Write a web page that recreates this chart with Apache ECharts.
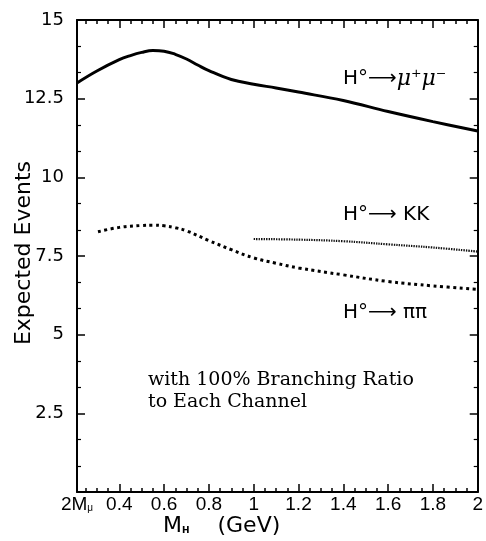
<!DOCTYPE html>
<html><head><meta charset="utf-8">
<script src="https://cdn.jsdelivr.net/npm/echarts@6/dist/echarts.min.js"></script>
<style>html,body{margin:0;padding:0;background:#fff}#c{width:486px;height:541px}</style>
</head><body><div id="c"></div><script>
// x axis starts at the di-muon threshold 2*m_mu (GeV)
const X_MIN = 0.2113;
const X_MAX = 2.0;
const xMajorTicks = [X_MIN, 0.4, 0.6, 0.8, 1.0, 1.2, 1.4, 1.6, 1.8, 2.0];
const xMinorTicks = [0.25, 0.3, 0.35, 0.45, 0.5, 0.55, 0.65, 0.7, 0.75, 0.85, 0.9, 0.95,
  1.05, 1.1, 1.15, 1.25, 1.3, 1.35, 1.45, 1.5, 1.55, 1.65, 1.7, 1.75, 1.85, 1.9, 1.95];

// H0 -> mu+ mu-
const muMuX = [0.2113, 0.3, 0.4, 0.45, 0.5, 0.55, 0.6, 0.65, 0.7, 0.75, 0.8, 0.9, 1.0, 1.1, 1.2, 1.4, 1.6, 1.8, 2.0];
const muMuY = [13.0, 13.38, 13.74, 13.87, 13.97, 14.03, 14.01, 13.91, 13.76, 13.57, 13.39, 13.11, 12.96, 12.84, 12.71, 12.44, 12.09, 11.77, 11.47];
// H0 -> pi pi
const piPiX = [0.305, 0.4, 0.5, 0.55, 0.6, 0.65, 0.7, 0.8, 0.9, 1.0, 1.1, 1.2, 1.4, 1.6, 1.8, 2.0];
const piPiY = [8.27, 8.41, 8.47, 8.48, 8.46, 8.40, 8.30, 7.99, 7.70, 7.44, 7.27, 7.12, 6.90, 6.69, 6.55, 6.44];
// H0 -> K K
const kkX = [1.0, 1.2, 1.4, 1.6, 1.8, 2.0];
const kkY = [8.04, 8.02, 7.97, 7.87, 7.77, 7.64];

const pairs = (xs, ys) => xs.map((x, i) => [x, ys[i]]);

const chart = echarts.init(document.getElementById('c'), null, {renderer: 'canvas'});
const black = '#000';
const sans = 'DejaVu Sans';

function xAxisCfg(pos, ticks, len, labels, line) {
  return {
    type: 'value', min: X_MIN, max: X_MAX, position: pos, gridIndex: 0,
    axisLine: {show: line, onZero: false, lineStyle: {color: black, width: 2}},
    axisTick: {show: true, inside: true, length: len, customValues: ticks, lineStyle: {color: black, width: 1.5}},
    axisLabel: labels ? {
      show: true, customValues: xMajorTicks, margin: 3, color: black,
      fontFamily: 'Liberation Sans', fontSize: 19, showMinLabel: true, showMaxLabel: true,
      formatter: v => Math.abs(v - X_MIN) < 1e-6 ? '2M{s|μ}' : String(+v.toFixed(1)),
      rich: {s: {fontSize: 10, fontFamily: 'Liberation Sans', color: black, padding: [8, 0, 0, 0]}}
    } : {show: false},
    splitLine: {show: false}
  };
}
function yAxisCfg(pos, labels) {
  return {
    type: 'value', min: 0, max: 15, interval: 2.5, position: pos,
    axisLine: {show: true, onZero: false, lineStyle: {color: black, width: 2}},
    axisTick: {show: true, inside: true, length: 8, lineStyle: {color: black, width: 1.5}},
    minorTick: {show: true, splitNumber: 3, length: 4, lineStyle: {color: black, width: 1.2}},
    axisLabel: labels ? {
      show: true, margin: 13, color: black, fontFamily: sans, fontSize: 18,
      showMinLabel: false,
      formatter: v => v === 0 ? '' : String(v)
    } : {show: false},
    splitLine: {show: false}
  };
}

const option = {
  backgroundColor: '#fff',
  animation: false,
  grid: {left: 77, right: 7, top: 20, bottom: 49, containLabel: false},
  xAxis: [
    xAxisCfg('bottom', xMajorTicks, 8, true, true),
    xAxisCfg('bottom', xMinorTicks, 4, false, false),
    xAxisCfg('top', xMajorTicks, 8, false, true),
    xAxisCfg('top', xMinorTicks, 4, false, false)
  ],
  yAxis: [yAxisCfg('left', true), yAxisCfg('right', false)],
  series: [
    {type: 'line', name: 'mumu', data: pairs(muMuX, muMuY), smooth: 0.4, symbol: 'none',
      lineStyle: {color: black, width: 3}},
    {type: 'line', name: 'pipi', data: pairs(piPiX, piPiY), smooth: 0.4, symbol: 'none',
      lineStyle: {color: black, width: 3, type: [3, 3.5]}},
    {type: 'line', name: 'KK', data: pairs(kkX, kkY), smooth: 0.4, symbol: 'none',
      lineStyle: {color: '#111', width: 2.2, type: [1.4, 1.1]}}
  ],
  graphic: [
    {type: 'text', left: 343, top: 68, style: {
      text: 'H°⟶{i|μ}⁺{i|μ}⁻', fill: black, font: '20px "DejaVu Sans"',
      rich: {i: {fontStyle: 'italic', fontFamily: 'DejaVu Serif', fontSize: 22, fill: black}}}},
    {type: 'text', left: 343, top: 205, style: {
      text: 'H°⟶ KK', fill: black, font: '20px "DejaVu Sans"'}},
    {type: 'text', left: 343, top: 303, style: {
      text: 'H°⟶ ππ', fill: black, font: '20px "DejaVu Sans"'}},
    {type: 'text', left: 148, top: 369, style: {
      text: 'with 100% Branching Ratio\nto Each Channel', fill: black,
      font: '19px "DejaVu Serif"', lineHeight: 22}},
    {type: 'text', x: 24, y: 253, rotation: Math.PI / 2, style: {
      text: 'Expected Events', fill: black, font: '22px "DejaVu Sans"',
      align: 'center', verticalAlign: 'middle'}},
    {type: 'text', left: 163, top: 515, style: {
      text: 'M{s|H}    (GeV)', fill: black, font: '22px "DejaVu Sans"',
      rich: {s: {fontSize: 9, fontFamily: 'DejaVu Sans', fontWeight: 'bold', fill: black, padding: [9, 0, 0, 0]}}}}
  ]
};
chart.setOption(option);
</script></body></html>
